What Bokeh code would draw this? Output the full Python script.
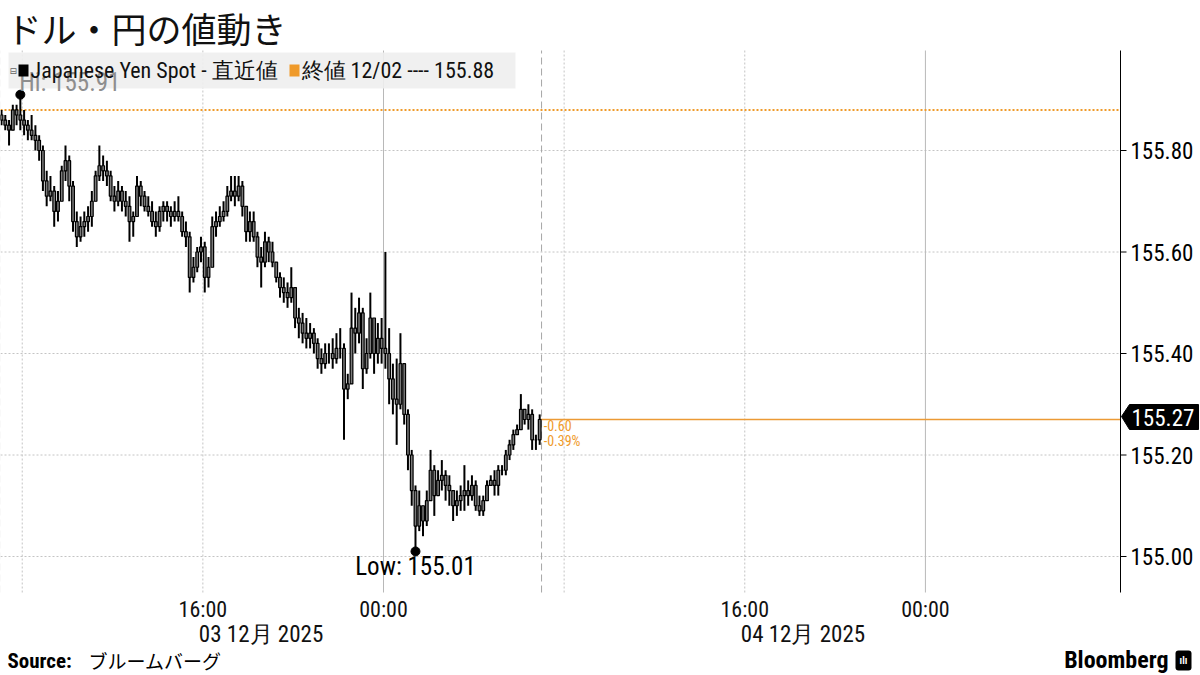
from bokeh.plotting import figure
from bokeh.core.properties import value
from bokeh.models import ColumnDataSource
from bokeh.embed import file_html
from bokeh.resources import INLINE

# ---------------- data (USD/JPY 10-minute bars, 07:00 Dec 3 -> 07:00 Dec 4) ----------------
start_hour = 7.0          # hours since 00:00 Dec 3
bar_minutes = 10
first_open = 155.87
prev_close = 155.88       # 終値 12/02

highs = [155.88,155.87,155.86,155.89,155.89,155.91,155.88,155.86,155.87,155.85,
         155.83,155.81,155.76,155.75,155.73,155.72,155.77,155.81,155.79,155.74,
         155.68,155.67,155.68,155.69,155.72,155.76,155.81,155.79,155.78,155.76,
         155.73,155.74,155.73,155.72,155.71,155.68,155.75,155.74,155.72,155.71,
         155.70,155.68,155.69,155.70,155.70,155.69,155.70,155.71,155.68,155.66,
         155.64,155.59,155.61,155.63,155.62,155.59,155.67,155.68,155.69,155.70,
         155.73,155.75,155.75,155.75,155.74,155.69,155.68,155.68,155.64,155.61,
         155.64,155.63,155.62,155.58,155.56,155.55,155.54,155.57,155.53,155.49,
         155.48,155.47,155.46,155.45,155.43,155.41,155.42,155.42,155.43,155.44,
         155.45,155.42,155.36,155.52,155.49,155.51,155.49,155.43,155.52,155.47,
         155.46,155.47,155.60,155.45,155.38,155.39,155.44,155.38,155.29,155.21,
         155.14,155.13,155.10,155.13,155.21,155.18,155.17,155.19,155.17,155.16,
         155.13,155.13,155.14,155.18,155.15,155.16,155.15,155.12,155.12,155.15,
         155.16,155.17,155.18,155.18,155.21,155.23,155.25,155.26,155.32,155.29,
         155.30,155.29,155.24,155.28]

lows = [155.85,155.84,155.81,155.84,155.85,155.84,155.83,155.82,155.82,155.80,
        155.78,155.72,155.69,155.70,155.65,155.66,155.70,155.74,155.70,155.64,
        155.61,155.62,155.63,155.64,155.65,155.70,155.74,155.74,155.73,155.70,
        155.68,155.69,155.68,155.67,155.62,155.63,155.67,155.69,155.68,155.67,
        155.65,155.63,155.64,155.66,155.66,155.65,155.66,155.66,155.63,155.61,
        155.52,155.54,155.56,155.58,155.52,155.53,155.57,155.63,155.65,155.66,
        155.67,155.70,155.69,155.70,155.67,155.62,155.62,155.62,155.57,155.53,
        155.57,155.58,155.57,155.54,155.51,155.50,155.49,155.50,155.45,155.43,
        155.42,155.41,155.41,155.40,155.37,155.36,155.37,155.38,155.37,155.38,
        155.39,155.23,155.31,155.34,155.40,155.42,155.33,155.36,155.39,155.36,
        155.38,155.38,155.37,155.30,155.28,155.22,155.29,155.26,155.17,155.10,
        155.01,155.05,155.04,155.06,155.11,155.08,155.12,155.13,155.11,155.10,
        155.07,155.08,155.09,155.09,155.10,155.11,155.09,155.08,155.08,155.11,
        155.14,155.12,155.12,155.16,155.16,155.19,155.21,155.24,155.25,155.26,
        155.25,155.21,155.21,155.22]

closes = [155.86,155.85,155.84,155.88,155.87,155.86,155.85,155.84,155.83,155.82,
          155.80,155.74,155.71,155.72,155.68,155.70,155.76,155.78,155.73,155.66,
          155.63,155.65,155.66,155.67,155.70,155.75,155.77,155.76,155.75,155.71,
          155.70,155.72,155.70,155.69,155.66,155.67,155.73,155.71,155.69,155.68,
          155.66,155.65,155.68,155.69,155.68,155.67,155.68,155.67,155.64,155.63,
          155.55,155.57,155.60,155.61,155.55,155.57,155.65,155.66,155.67,155.68,
          155.71,155.72,155.71,155.73,155.69,155.64,155.66,155.63,155.59,155.58,
          155.62,155.60,155.58,155.55,155.53,155.52,155.51,155.53,155.47,155.46,
          155.44,155.43,155.44,155.42,155.39,155.38,155.40,155.40,155.39,155.41,
          155.41,155.33,155.34,155.45,155.44,155.48,155.37,155.40,155.47,155.40,
          155.43,155.41,155.40,155.35,155.31,155.30,155.38,155.28,155.20,155.13,
          155.06,155.10,155.07,155.11,155.17,155.12,155.15,155.16,155.14,155.13,
          155.10,155.11,155.12,155.13,155.12,155.14,155.10,155.09,155.11,155.14,
          155.15,155.14,155.17,155.17,155.20,155.22,155.24,155.25,155.29,155.27,
          155.28,155.23,155.23,155.27]

y_ticks = [155.0, 155.2, 155.4, 155.6, 155.8]
x_ticks = [16, 24, 40, 48]
x_tick_labels = ["16:00", "00:00", "16:00", "00:00"]
date_ticks = [16, 40]
date_labels = ["03 12月 2025", "04 12月 2025"]
title_text = "ドル・円の値動き"
legend_series = "Japanese Yen Spot - 直近値"
legend_prev = "終値 12/02 ---- 155.88"
last_text = "155.27"
chg_text = "-0.60"
pct_text = "-0.39%"
source_label = "Source:"
source_text = "ブルームバーグ"
brand_text = "Bloomberg"

# ---------------- derived table ----------------
n = len(closes)
times = [start_hour + (i + 0.5) * bar_minutes / 60 for i in range(n)]
opens = [first_open] + closes[:-1]
src = ColumnDataSource(dict(
    t=times, o=opens, h=highs, l=lows, c=closes,
    top=[max(a, b) for a, b in zip(opens, closes)],
    bot=[min(a, b) for a, b in zip(opens, closes)],
))

# ---------------- canvas geometry (the frame fills the whole canvas) ----------------
W, Hh = 1200, 675
PXH = 22.58                      # pixels per hour
T0 = 24 - 383 / PXH              # hour at the left edge
UPY = 507.5                      # pixels per yen
V_TOP = 155 + 556 / UPY          # price at the top edge


def X(px):
    return T0 + px / PXH


def Y(py):
    return V_TOP - py / UPY


T_AXIS = X(1120)
Y_FT, Y_FB = Y(50), Y(592)

LAT = "Liberation Sans Narrow, Roboto Condensed, Arial Narrow, sans-serif"
JP = "Noto Sans CJK JP"
ORANGE = "#ef9a2a"

p = figure(width=W, height=Hh, x_range=(T0, X(W)), y_range=(Y(Hh), V_TOP),
           output_backend="svg", toolbar_location=None,
           min_border=0, x_axis_type=None, y_axis_type=None)
p.outline_line_color = None
p.grid.visible = False
p.background_fill_color = "white"
p.border_fill_color = "white"

# ---- grid lines ----
p.segment(x0=[X(0)] * len(y_ticks), y0=y_ticks, x1=[T_AXIS] * len(y_ticks), y1=y_ticks,
          line_color="#c4c4c4", line_dash="2 2", line_width=1)
light_v = [8, 16, 32, 40]
p.segment(x0=light_v, y0=[Y_FB] * 4, x1=light_v, y1=[Y_FT] * 4,
          line_color="#c4c4c4", line_dash="2 2", line_width=1)
p.segment(x0=[24, 48], y0=[Y_FB] * 2, x1=[24, 48], y1=[Y_FT] * 2,
          line_color="#b8b8b8", line_width=1)
sess = [start_hour, start_hour + 24]
p.segment(x0=sess, y0=[Y_FB] * 2, x1=sess, y1=[Y_FT] * 2,
          line_color="#a6a6a6", line_dash="7 4", line_width=1)

# ---- previous close dotted line ----
p.segment(x0=[X(0)], y0=[prev_close], x1=[T_AXIS], y1=[prev_close],
          line_color=ORANGE, line_dash="2 2", line_width=2)

# ---- last price line ----
p.segment(x0=[times[-1]], y0=[closes[-1]], x1=[T_AXIS], y1=[closes[-1]],
          line_color="#ec9a35", line_width=1.5)

# ---- bars ----
p.segment(x0="t", y0="l", x1="t", y1="h", source=src, line_color="black", line_width=2)
p.vbar(x="t", top="top", bottom="bot", width=0.12, source=src,
       fill_color="#7a7a7a", line_color="black", line_width=1.2)

# ---- hi / low ----
ih = max(range(n), key=lambda i: highs[i])
il = min(range(n), key=lambda i: lows[i])
p.scatter(x=[times[ih], times[il]], y=[highs[ih], lows[il]], size=9,
          fill_color="black", line_color="black")

# ---- legend box ----
p.quad(left=[X(8)], right=[X(515)], top=[Y(52)], bottom=[Y(88)],
       fill_color="#eeeeee", fill_alpha=0.9, line_color=None)
p.text(x=[times[ih]], y=[Y(82)], text=[f"Hi: {highs[ih]:.2f}"], x_offset=-1,
       text_align="left", text_baseline="middle", text_font=value(LAT),
       text_font_size="25px", text_color="#8e8e8e")
p.text(x=[X(9)], y=[Y(70)], text=["⊟"], text_baseline="middle",
       text_font=value("DejaVu Sans"), text_font_size="9px", text_color="#666666")
p.quad(left=[X(18)], right=[X(28)], top=[Y(64)], bottom=[Y(76)],
       fill_color="black", line_color=None)
p.text(x=[X(30)], y=[Y(70)], text=[legend_series], text_baseline="middle",
       text_font=value(LAT), text_font_size="22px", text_color="#111111")
p.quad(left=[X(289)], right=[X(299)], top=[Y(64)], bottom=[Y(76)],
       fill_color=ORANGE, line_color=None)
p.text(x=[X(301)], y=[Y(70)], text=[legend_prev], text_baseline="middle",
       text_font=value(LAT), text_font_size="22px", text_color="#111111")

p.text(x=[times[il]], y=[Y(566)], text=[f"Low: {lows[il]:.2f}"],
       text_align="center", text_baseline="middle", text_font=value(LAT),
       text_font_size="25px", text_color="black")

# ---- change labels ----
p.text(x=[times[-1]] * 2, y=[Y(425), Y(440)], text=[chg_text, pct_text], x_offset=4,
       text_baseline="middle", text_font=value(LAT), text_font_size="14px",
       text_color=ORANGE)

# ---- right axis (drawn) ----
p.segment(x0=[T_AXIS], y0=[Y(50)], x1=[T_AXIS], y1=[Y(592)], line_color="black", line_width=1)
p.segment(x0=[T_AXIS] * len(y_ticks), y0=y_ticks, x1=[X(1126)] * len(y_ticks), y1=y_ticks,
          line_color="black", line_width=1)
p.text(x=[X(1130)] * len(y_ticks), y=y_ticks, text=[f"{v:.2f}" for v in y_ticks],
       text_baseline="middle", text_font=value(LAT), text_font_size="23px",
       text_color="black")

# last price tag
p.patch(x=[X(1121), X(1129), X(1198), X(1198), X(1129)],
        y=[Y(416), Y(404), Y(404), Y(429), Y(429)],
        fill_color="black", line_color="black")
p.text(x=[X(1131)], y=[Y(417)], text=[last_text], text_baseline="middle",
       text_font=value(LAT), text_font_size="23px", text_color="white")

# ---- x tick labels & dates ----
p.text(x=x_ticks, y=[Y(609)] * len(x_ticks), text=x_tick_labels, text_align="center",
       text_baseline="middle", text_font=value(LAT), text_font_size="22px",
       text_color="#111111")
p.text(x=date_ticks, y=[Y(634)] * 2, text=date_labels, x_offset=-4,
       text_align="left", text_baseline="middle", text_font=value(LAT),
       text_font_size="23px", text_color="#111111")

# ---- title ----
p.text(x=[X(6)], y=[Y(27)], text=[title_text], text_baseline="middle",
       text_font=value(JP), text_font_size="35px", text_color="#111111")

# ---- footer ----
p.text(x=[X(7)], y=[Y(660)], text=[source_label], text_baseline="middle",
       text_font=value(LAT), text_font_size="21px", text_font_style="bold",
       text_color="black")
p.text(x=[X(88)], y=[Y(660)], text=[source_text], text_baseline="middle",
       text_font=value(JP), text_font_size="19px", text_color="black")
p.text(x=[X(1168)], y=[Y(659)], text=[brand_text], text_align="right",
       text_baseline="middle", text_font=value(LAT), text_font_size="24px",
       text_font_style="bold", text_color="black")
p.quad(left=[X(1175)], right=[X(1191)], top=[Y(650)], bottom=[Y(670)],
       fill_color="black", line_color=None, border_radius=3)
p.text(x=[X(1183)], y=[Y(660)], text=["ılı"], text_align="center",
       text_baseline="middle", text_font=value(LAT), text_font_size="10px",
       text_font_style="bold", text_color="white")

open("out.html", "w").write(file_html(p, INLINE))
